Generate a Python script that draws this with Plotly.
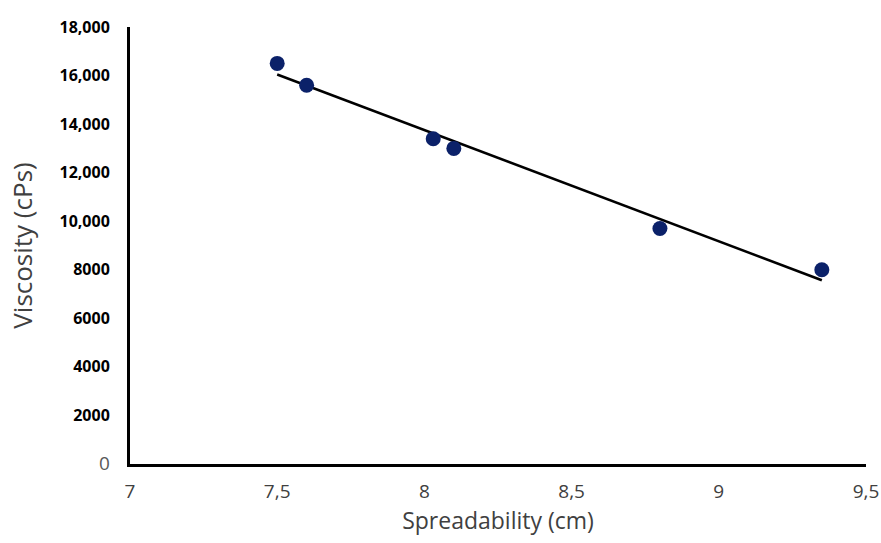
import numpy as np
import plotly.graph_objects as go

# Data
spreadability = [7.5, 7.6, 8.03, 8.1, 8.8, 9.35]
viscosity = [16500, 15600, 13400, 13000, 9700, 8000]

x_tickvals = [7, 7.5, 8, 8.5, 9, 9.5]
x_ticktext = ["7", "7,5", "8", "8,5", "9", "9,5"]
y_tickvals = [0, 2000, 4000, 6000, 8000, 10000, 12000, 14000, 16000, 18000]
y_ticklabels = ["0", "2000", "4000", "6000", "8000", "10,000", "12,000", "14,000", "16,000", "18,000"]

# Linear trendline (least squares)
slope, intercept = np.polyfit(spreadability, viscosity, 1)
trend_x = [min(spreadability), max(spreadability)]
trend_y = [slope * v + intercept for v in trend_x]

y_ticktext = [
    ("<span style='font-size:19px;color:#595959'>%s</span>" % t) if t == "0" else "<b>%s</b>" % t
    for t in y_ticklabels
]

fig = go.Figure()
fig.add_trace(go.Scatter(x=trend_x, y=trend_y, mode="lines",
                         line=dict(color="black", width=2.5), showlegend=False))
fig.add_trace(go.Scatter(x=spreadability, y=viscosity, mode="markers",
                         marker=dict(color="#0b2169", size=15), showlegend=False))

fig.update_layout(
    width=881, height=543,
    margin=dict(l=130, r=15, t=27, b=79),
    paper_bgcolor="white", plot_bgcolor="white",
    font=dict(family="Open Sans", color="#404040"),
    xaxis=dict(range=[7, 9.5], tickvals=x_tickvals, ticktext=x_ticktext, automargin=False,
               showgrid=False, zeroline=False, showline=True, linecolor="black", linewidth=3,
               ticks="", tickfont=dict(size=19, color="#404040"), ticklabelstandoff=8,
               title=dict(text="Spreadability (cm)", font=dict(size=23, color="#404040"), standoff=8)),
    yaxis=dict(range=[0, 18000], tickvals=y_tickvals, ticktext=y_ticktext, automargin=False,
               showgrid=False, zeroline=False, showline=True, linecolor="black", linewidth=3,
               ticks="", tickfont=dict(size=16, color="black"), ticklabelstandoff=14,
               title=dict(text="Viscosity (cPs)", font=dict(size=26, color="#404040"), standoff=20)),
)

fig.write_html("out.html")
